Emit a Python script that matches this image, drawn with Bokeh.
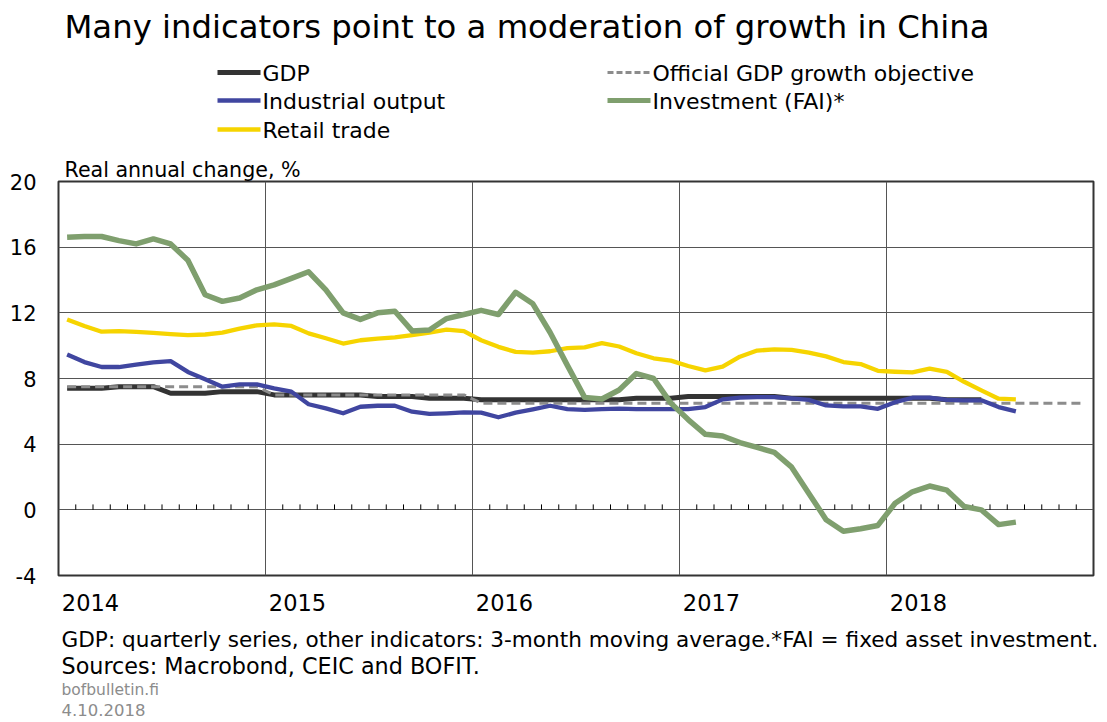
from bokeh.plotting import figure
from bokeh.models import Range1d, FixedTicker, CustomJSTickFormatter, Label
from bokeh.embed import file_html
from bokeh.resources import INLINE

# ---------------- data ----------------
years = [2014, 2015, 2016, 2017, 2018]
y_ticks = [-4, 0, 4, 8, 12, 16, 20]

# GDP, real y/y %, quarterly 2014Q1..2018Q2
gdp_quarterly = [7.4, 7.5, 7.1, 7.2,
                 7.0, 7.0, 6.9, 6.8,
                 6.7, 6.7, 6.7, 6.8,
                 6.9, 6.9, 6.8, 6.8,
                 6.8, 6.7]
# Official GDP growth objective per year
gdp_objective = [7.5, 7.0, 6.5, 6.5, 6.5]

# Monthly series Jan 2014 .. Aug 2018 (3-month moving averages)
industrial = [9.46, 9.0, 8.7, 8.7, 8.85, 8.98, 9.06, 8.4, 7.96, 7.5,
              7.64, 7.64, 7.4, 7.2, 6.43, 6.18, 5.88, 6.28, 6.34, 6.34,
              5.98, 5.84, 5.88, 5.94, 5.92, 5.64, 5.92, 6.12, 6.34, 6.14,
              6.09, 6.13, 6.17, 6.13, 6.13, 6.13, 6.13, 6.26, 6.73, 6.83,
              6.87, 6.87, 6.79, 6.7, 6.36, 6.3, 6.3, 6.15, 6.56, 6.83,
              6.83, 6.7, 6.67, 6.67, 6.26, 6.0]
investment = [16.6, 16.65, 16.65, 16.4, 16.2, 16.5, 16.2, 15.2, 13.1, 12.7,
              12.9, 13.4, 13.7, 14.1, 14.5, 13.4, 12.0, 11.6, 12.0, 12.1,
              10.9, 10.95, 11.65, 11.9, 12.15, 11.9, 13.25, 12.55, 10.8, 8.8,
              6.85, 6.75, 7.3, 8.3, 8.0, 6.5, 5.5, 4.6, 4.5, 4.1,
              3.8, 3.5, 2.6, 1.0, -0.6, -1.3, -1.15, -0.95, 0.4, 1.1,
              1.45, 1.2, 0.2, 0.0, -0.9, -0.75]
retail = [11.6, 11.2, 10.85, 10.88, 10.84, 10.78, 10.7, 10.64, 10.68, 10.8,
          11.04, 11.24, 11.3, 11.2, 10.75, 10.45, 10.13, 10.33, 10.43, 10.5,
          10.64, 10.8, 10.98, 10.88, 10.33, 9.93, 9.62, 9.58, 9.66, 9.85,
          9.9, 10.15, 9.95, 9.54, 9.23, 9.09, 8.76, 8.5, 8.72, 9.33,
          9.7, 9.78, 9.74, 9.58, 9.35, 9.0, 8.88, 8.47, 8.41, 8.37,
          8.6, 8.41, 7.8, 7.28, 6.77, 6.73]

# ---------------- derived x positions (mid-month) ----------------
START = years[0]
def month_x(n):
    return [START + (i + 0.5) / 12 for i in range(n)]

x_monthly = month_x(len(industrial))
gdp_monthly = [v for v in gdp_quarterly for _ in range(3)]
x_gdp = month_x(len(gdp_monthly))
objective_monthly = [v for v in gdp_objective for _ in range(12)]
x_obj = month_x(len(objective_monthly))

# ---------------- layout constants (page pixels) ----------------
W = 1105
H_HEAD, H_MAIN, H_FOOT = 155, 467, 98
FL, FT, FW, FH = 58, 181, 1035, 394          # plot frame
X0, X1, Y0, Y1 = years[0], years[-1] + 1, y_ticks[0], y_ticks[-1]
FONT = "DejaVu Sans"
BASE_FIX = 0.34   # empirical baseline correction (fraction of font size)

C_GDP = "#333333"
C_OBJ = "#8c8c8c"
C_IND = "#4046a0"
C_FAI = "#7f9f6e"
C_RET = "#f6d400"


def blank(height):
    f = figure(width=W, height=height, x_range=Range1d(0, W), y_range=Range1d(height, 0),
               output_backend="svg", toolbar_location=None,
               x_axis_location=None, y_axis_location=None, min_border=0)
    f.grid.visible = False
    f.outline_line_color = None
    f.background_fill_color = "white"
    f.border_fill_color = "white"
    return f


def add_text(f, x, y, text, size, color="#000000"):
    f.add_layout(Label(x=x, y=y - BASE_FIX * size, text=text, text_font=FONT,
                       text_font_size=f"{size}px", text_color=color,
                       text_align="left", text_baseline="alphabetic"))

# ---------------- header: title + legend ----------------
head = blank(H_HEAD)
add_text(head, 64, 37, "Many indicators point to a moderation of growth in China", 32.3)
legend_items = [
    (217, 72, 80, "GDP", C_GDP, 5, "solid"),
    (217, 100, 108.5, "Industrial output", C_IND, 4.3, "solid"),
    (217, 129, 137.5, "Retail trade", C_RET, 4.3, "solid"),
    (607, 72, 80, "Official GDP growth objective", C_OBJ, 3, "6 3"),
    (607, 100, 108.5, "Investment (FAI)*", C_FAI, 5, "solid"),
]
for lx, ly, by, txt, col, lw, dash in legend_items:
    head.line([lx, lx + 43], [ly, ly], line_color=col, line_width=lw, line_dash=dash)
    add_text(head, lx + 45, by, txt, 22)

# ---------------- main chart ----------------
top_border = FT - H_HEAD
p = figure(width=W, height=H_MAIN, x_range=Range1d(X0, X1), y_range=Range1d(Y0, Y1),
           output_backend="svg", toolbar_location=None,
           min_border_left=FL, min_border_right=W - FL - FW,
           min_border_top=top_border, min_border_bottom=H_MAIN - top_border - FH)
p.background_fill_color = "white"
p.border_fill_color = "white"
p.outline_line_color = "#333333"
p.outline_line_width = 2

p.title.text = "Real annual change, %"
p.title.text_font = FONT
p.title.text_font_size = "20.6px"
p.title.text_font_style = "normal"
p.title.text_color = "#000000"
p.title.align = "left"
p.title.offset = 6
p.title.standoff = 0

p.xgrid.ticker = FixedTicker(ticks=years[1:])
p.ygrid.ticker = FixedTicker(ticks=y_ticks)
p.xgrid.grid_line_color = "#555555"
p.ygrid.grid_line_color = "#555555"

LABEL_SHIFT = 32 / FW * (X1 - X0)
p.xaxis.ticker = FixedTicker(ticks=[y + LABEL_SHIFT for y in years])
p.xaxis.formatter = CustomJSTickFormatter(code="return Math.floor(tick).toString();")
p.yaxis.ticker = FixedTicker(ticks=y_ticks)
p.yaxis.formatter = CustomJSTickFormatter(code="return tick.toFixed(0);")
for ax in (p.xaxis, p.yaxis):
    ax.axis_line_color = None
    ax.major_tick_line_color = None
    ax.minor_tick_line_color = None
    ax.major_tick_out = 0
    ax.major_tick_in = 0
    ax.minor_tick_out = 0
    ax.minor_tick_in = 0
    ax.major_label_text_font = FONT
    ax.major_label_text_color = "#000000"
p.xaxis.major_label_text_font_size = "22.5px"
p.xaxis.major_label_standoff = 18
p.yaxis.major_label_text_font_size = "21px"
p.yaxis.major_label_standoff = 22

# monthly ticks on the zero line
month_edges = [START + k / 12 for k in range(1, 12 * len(years)) if k % 12 != 0]
p.segment(x0=month_edges, y0=[0] * len(month_edges), x1=month_edges,
          y1=[0.33] * len(month_edges), line_color="#000000", line_width=1)

p.line(x_gdp, gdp_monthly, line_color=C_GDP, line_width=5, line_join="round")
p.line(x_obj, objective_monthly, line_color=C_OBJ, line_width=3, line_dash="9 5")
p.line(x_monthly, industrial, line_color=C_IND, line_width=4.3, line_join="round")
p.line(x_monthly, retail, line_color=C_RET, line_width=4.3, line_join="round")
p.line(x_monthly, investment, line_color=C_FAI, line_width=5.5, line_join="round")

# ---------------- footer ----------------
foot = blank(H_FOOT)
F0 = H_HEAD + H_MAIN
add_text(foot, 61, 646 - F0,
         "GDP: quarterly series, other indicators: 3-month moving average.*FAI = fixed asset investment.",
         21.6)
add_text(foot, 61, 673 - F0, "Sources: Macrobond, CEIC and BOFIT.", 22.3)
add_text(foot, 61, 695 - F0, "bofbulletin.fi", 15.5, "#8c8c8c")
add_text(foot, 61, 715 - F0, "4.10.2018", 16.5, "#8c8c8c")

open("out.html", "w").write(file_html([head, p, foot], INLINE))
